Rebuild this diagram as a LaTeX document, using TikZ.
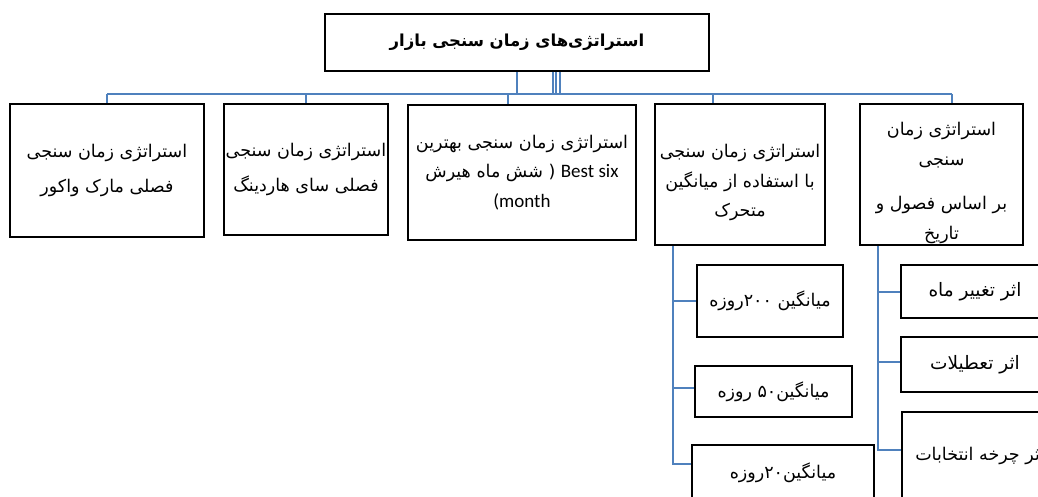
\documentclass[tikz,border=0pt]{standalone}
\usepackage{fontspec}
\newfontfamily\farsi[Script=Arabic]{DejaVu Sans}
\newfontfamily\latin{Carlito}
\TeXXeTstate=1
\definecolor{linkblue}{RGB}{79,129,189}
\newcommand\rtltext[1]{{\farsi\beginR #1\endR}}

\begin{document}
\begin{tikzpicture}[x=1pt, y=-1pt, box/.style={draw, black, line width=2.6pt, align=center, inner sep=0pt, font=\farsi\fontsize{17.5}{29.5}\selectfont}, link/.style={draw, linkblue, line width=2pt}]
	\useasboundingbox (0,0) rectangle (1038,497);
	\clip (0,0) rectangle (1038,497);
	
	\node[box, minimum width=384pt, minimum height=57pt, font=\farsi\bfseries\fontsize{16.5}{20}\selectfont] (top) at (517,42.5) {\rtltext{استراتژی‌های زمان سنجی بازار}};
	
	\node[box, minimum width=194pt, minimum height=133pt, font=\farsi\fontsize{17.5}{35}\selectfont] (b1) at (107,170.5) {\rtltext{استراتژی زمان سنجی}\\\rtltext{فصلی مارک واکور}};
	\node[box, minimum width=164pt, minimum height=131pt, font=\farsi\fontsize{17.5}{35}\selectfont] (b2) at (306,169.5) {\rtltext{استراتژی زمان سنجی}\\\rtltext{فصلی سای هاردینگ}};
	\node[box, minimum width=228pt, minimum height=135pt] (b3) at (522,172.5) {\rtltext{استراتژی زمان سنجی بهترین}\\\rtltext{شش ماه هیرش} ( {\latin\fontsize{19}{29.5}\selectfont Best six}\\{\latin\fontsize{19}{29.5}\selectfont (month}};
	\node[box, minimum width=170pt, minimum height=141pt] (b4) at (740,174.5) {\rule{0pt}{30pt}\rtltext{استراتژی زمان سنجی}\\\rtltext{با استفاده از میانگین}\\\rtltext{متحرک}};
	\node[box, minimum width=163pt, minimum height=141pt] (b5) at (941.5,174.5) {\rule{0pt}{30pt}\rtltext{استراتژی زمان}\\\rtltext{سنجی}\\[15pt]\rtltext{بر اساس فصول و}\\\rtltext{تاریخ}};
	
	\node[box, minimum width=146pt, minimum height=72pt] (m200) at (770,301) {\rtltext{میانگین \beginL ۲۰۰\endL{}روزه}};
	\node[box, minimum width=157pt, minimum height=51pt] (m50) at (773.5,391.5) {\rtltext{میانگین\beginL ۵۰\endL{} روزه}};
	\node[box, minimum width=182pt, minimum height=55pt] (m20) at (783,472.5) {\rtltext{میانگین\beginL ۲۰\endL{}روزه}};
	
	\node[box, minimum width=148pt, minimum height=53pt, font=\farsi\fontsize{18.5}{29.5}\selectfont] (s1) at (975,291.5) {\rtltext{اثر تغییر ماه}};
	\node[box, minimum width=148pt, minimum height=55pt, font=\farsi\fontsize{18.5}{29.5}\selectfont] (s2) at (975,364.5) {\rtltext{اثر تعطیلات}};
	\node[box, minimum width=156pt, minimum height=88pt] (s3) at (980,456) {\rtltext{اثر چرخه انتخابات}};
	
	% bus under the title
	\coordinate (busL) at (107,94);
	\coordinate (busR) at (952,94);
	\draw[link] (busL) -- (busR);
	\foreach \dx in {0,36,38.5,43}
		\draw[link] ([xshift=\dx pt]top.south) -- ++(0,23);
	
	\draw[link] (busL) -- (b1.north);
	\draw[link] (b2.north |- busL) -- (b2.north);
	\coordinate (b3in) at ([xshift=-14pt]b3.north);
	\draw[link] (b3in |- busL) -- (b3in);
	\coordinate (b4in) at ([xshift=-27pt]b4.north);
	\draw[link] (b4in |- busL) -- (b4in);
	\draw[link] (busR) -- (busR |- b5.north);
	
	% moving averages
	\coordinate (b4out) at ([xshift=-67pt]b4.south);
	\coordinate (m50in) at ([yshift=4pt]m50.west);
	\coordinate (m20in) at ([yshift=9pt]m20.west);
	\draw[link] (b4out) |- (m20in);
	\draw[link] (b4out |- m200.west) -- (m200.west);
	\draw[link] (b4out |- m50in) -- (m50in);
	
	% seasons and dates
	\coordinate (b5out) at ([xshift=-63.5pt]b5.south);
	\coordinate (s2in) at ([yshift=3pt]s2.west);
	\coordinate (s3in) at ([yshift=6pt]s3.west);
	\draw[link] (b5out) |- (s3in);
	\draw[link] (b5out |- s1.west) -- (s1.west);
	\draw[link] (b5out |- s2in) -- (s2in);
\end{tikzpicture}
\end{document}
